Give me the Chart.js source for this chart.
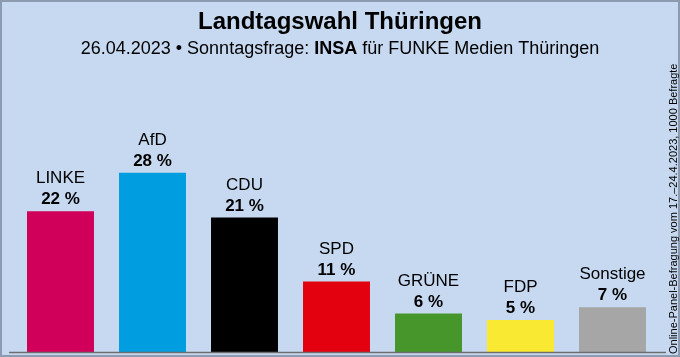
<!DOCTYPE html>
<html><head><meta charset="utf-8">
<script src="https://cdn.jsdelivr.net/npm/chart.js@4/dist/chart.umd.min.js"></script>
<style>html,body{margin:0;padding:0;background:#C6D9F1;}canvas{display:block;}</style>
</head><body>
<canvas id="c" width="680" height="357"></canvas>
<script>
const categories = ["LINKE","AfD","CDU","SPD","GRÜNE","FDP","Sonstige"];
const values = [22,28,21,11,6,5,7];
const colors = ["#D0005A","#009EE0","#000000","#E3000F","#46962B","#FAE933","#A6A6A6"];
const titleText = "Landtagswahl Thüringen";
const subtitleParts = ["26.04.2023 • Sonntagsfrage: ","INSA"," für FUNKE Medien Thüringen"];
const noteText = "Online-Panel-Befragung vom 17.–24.4.2023, 1000 Befragte";

const FONT = '"Liberation Sans Narrow","Liberation Sans",Arial,sans-serif';
const FONT2 = '"Liberation Sans",Arial,sans-serif';

const deco = {
  id:'deco',
  beforeDraw(chart){
    const ctx = chart.ctx;
    ctx.save();
    ctx.fillStyle = '#C6D9F1';
    ctx.fillRect(0,0,chart.width,chart.height);
    ctx.strokeStyle = '#8C9BB0';
    ctx.lineWidth = 2;
    ctx.strokeRect(1,1,chart.width-2,chart.height-2);
    ctx.restore();
  },
  afterDatasetsDraw(chart){
    const ctx = chart.ctx;
    const meta = chart.getDatasetMeta(0);
    const yBase = chart.scales.y.getPixelForValue(0);
    ctx.save();
    ctx.strokeStyle = '#6E6E6E';
    ctx.lineWidth = 1.5;
    ctx.beginPath(); ctx.moveTo(9,yBase+0.5); ctx.lineTo(666,yBase+0.5); ctx.stroke();
    ctx.textAlign = 'center';
    ctx.textBaseline = 'alphabetic';
    ctx.fillStyle = '#000';
    meta.data.forEach((bar,i)=>{
      ctx.font = '17px ' + FONT2;
      ctx.fillText(categories[i], bar.x, bar.y - 28);
      ctx.font = 'bold 17px ' + FONT2;
      ctx.fillText(values[i] + ' %', bar.x, bar.y - 7);
    });
    ctx.font = 'bold 24px ' + FONT;
    ctx.fillText(titleText, 340, 29);
    const f1 = '18px ' + FONT2, f2 = 'bold 18px ' + FONT2;
    ctx.font = f1; const w0 = ctx.measureText(subtitleParts[0]).width;
    ctx.font = f2; const w1 = ctx.measureText(subtitleParts[1]).width;
    ctx.font = f1; const w2 = ctx.measureText(subtitleParts[2]).width;
    let x = 340 - (w0+w1+w2)/2;
    ctx.textAlign = 'left';
    ctx.font = f1; ctx.fillText(subtitleParts[0], x, 54); x += w0;
    ctx.font = f2; ctx.fillText(subtitleParts[1], x, 54); x += w1;
    ctx.font = f1; ctx.fillText(subtitleParts[2], x, 54);
    ctx.translate(677, 354);
    ctx.rotate(-Math.PI/2);
    ctx.font = '11px ' + FONT;
    ctx.textAlign = 'left';
    ctx.fillText(noteText, 0, 0);
    ctx.restore();
  }
};

new Chart(document.getElementById('c'), {
  type:'bar',
  data:{labels:categories, datasets:[{data:values, backgroundColor:colors, borderWidth:0, categoryPercentage:1, barPercentage:0.728}]},
  options:{
    responsive:false, animation:false, devicePixelRatio:1,
    layout:{padding:{left:14.5,right:21.5,top:0,bottom:5}},
    plugins:{legend:{display:false},tooltip:{enabled:false},title:{display:false}},
    scales:{
      x:{display:false},
      y:{display:false,min:0,max:55}
    }
  },
  plugins:[deco]
});
</script>
</body></html>
